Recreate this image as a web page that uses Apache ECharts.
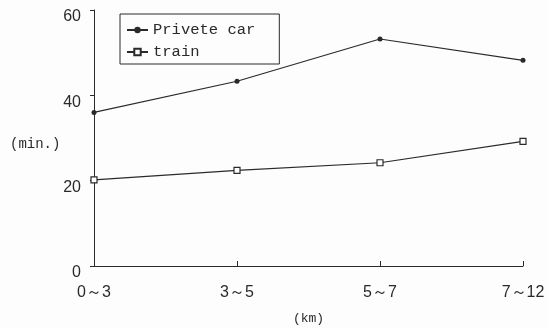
<!DOCTYPE html>
<html>
<head>
<meta charset="utf-8">
<script src="https://cdn.jsdelivr.net/npm/echarts@6/dist/echarts.min.js"></script>
<style>
  html, body { margin: 0; padding: 0; background: #fdfdfe; }
  #chart { width: 548px; height: 328px; }
</style>
</head>
<body>
<div id="chart"></div>
<script>
// distance bands (km)
const categories = ['0～3', '3～5', '5～7', '7～12'];
// travel time (min.)
const privateCar = [36.0, 43.3, 53.2, 48.2];
const train = [20.2, 22.4, 24.2, 29.2];
const yTicks = [0, 20, 40, 60];

const INK = '#2a2a2a';

const chart = echarts.init(document.getElementById('chart'));
chart.setOption({
  backgroundColor: '#fdfdfe',
  animation: false,
  grid: { left: 94, right: 25, top: 10, bottom: 62, outerBoundsMode: 'none' },
  legend: {
    left: 120,
    top: 14,
    orient: 'vertical',
    padding: [8, 24, 4, 6],
    itemGap: 6,
    itemWidth: 21,
    itemHeight: 8,
    borderColor: INK,
    borderWidth: 1,
    textStyle: { fontFamily: 'Liberation Mono', fontSize: 15.5, color: INK },
    data: ['Privete car', 'train'],
  },
  xAxis: {
    type: 'category',
    data: categories,
    boundaryGap: false,
    name: '(km)',
    nameLocation: 'middle',
    nameGap: 46,
    nameTextStyle: { fontFamily: 'Liberation Mono', fontSize: 13, color: INK },
    axisLine: { lineStyle: { color: INK, width: 1 } },
    axisTick: { inside: true, length: 5, lineStyle: { color: INK } },
    axisLabel: { margin: 19, fontFamily: 'Liberation Sans', fontSize: 16, color: INK },
  },
  yAxis: {
    type: 'value',
    min: yTicks[0],
    max: yTicks[yTicks.length - 1],
    interval: 20,
    splitLine: { show: false },
    axisLine: { show: true, lineStyle: { color: INK, width: 1 } },
    axisTick: { show: true, length: 4, lineStyle: { color: INK } },
    axisLabel: {
      margin: 13,
      fontFamily: 'Liberation Sans',
      fontSize: 16,
      color: INK,
      verticalAlign: 'top',
      padding: [-1, 0, 0, 0],
    },
  },
  graphic: [
    {
      type: 'text',
      left: 10,
      top: 137,
      style: { text: '(min.)', fontFamily: 'Liberation Mono', fontSize: 14, fill: INK },
    },
  ],
  series: [
    {
      name: 'Privete car',
      type: 'line',
      data: privateCar,
      symbol: 'circle',
      symbolSize: 5,
      itemStyle: { color: INK },
      lineStyle: { color: INK, width: 1.2 },
    },
    {
      name: 'train',
      type: 'line',
      data: train,
      symbol: 'rect',
      symbolSize: 6,
      itemStyle: { color: '#ffffff', borderColor: INK, borderWidth: 1.2 },
      lineStyle: { color: INK, width: 1.2 },
    },
  ],
});
</script>
</body>
</html>
